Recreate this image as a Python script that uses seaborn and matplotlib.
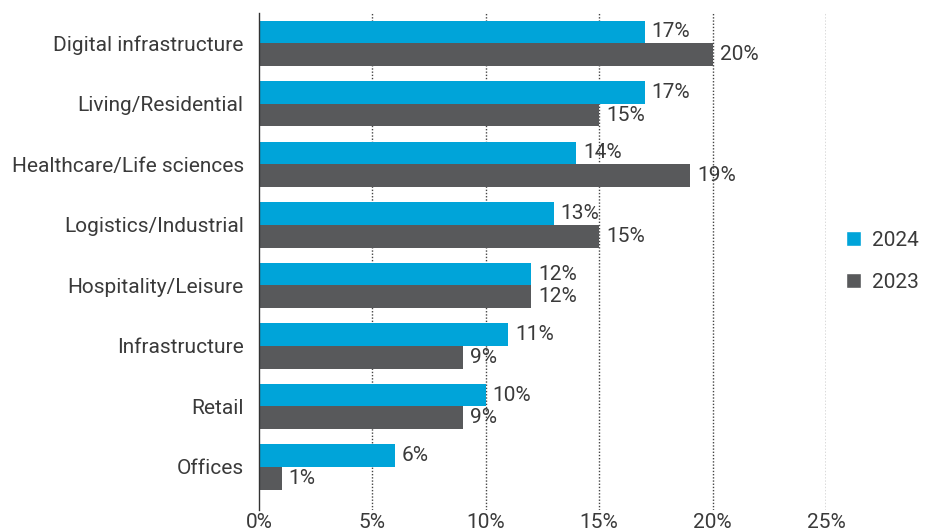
import matplotlib
matplotlib.use("Agg")
import matplotlib.pyplot as plt
import seaborn as sns
import pandas as pd
from matplotlib.patches import Patch

categories = ["Digital infrastructure", "Living/Residential", "Healthcare/Life sciences",
              "Logistics/Industrial", "Hospitality/Leisure", "Infrastructure", "Retail", "Offices"]
values_2024 = [17, 17, 14, 13, 12, 11, 10, 6]
values_2023 = [20, 15, 19, 15, 12, 9, 9, 1]
years = ["2024", "2023"]
x_ticks = [0, 5, 10, 15, 20, 25]

colors = {"2024": "#00a4d9", "2023": "#58595b"}
text_color = "#3a3a3a"

df = pd.DataFrame({
    "category": categories * 2,
    "value": values_2024 + values_2023,
    "year": ["2024"] * len(categories) + ["2023"] * len(categories),
})

sns.set_style("white")
plt.rcParams["font.family"] = ["Roboto", "Liberation Sans", "DejaVu Sans"]
plt.rcParams["font.weight"] = "normal"

fig = plt.figure(figsize=(9.27, 5.32), dpi=100)
ax = fig.add_axes([0.2794, 0.0414, 0.6116, 0.9342])

sns.barplot(data=df, y="category", x="value", hue="year", hue_order=years,
            order=categories, palette=colors, orient="h", width=0.75,
            saturation=1, linewidth=0, ax=ax, legend=False)

for container, year in zip(ax.containers, years):
    ax.bar_label(container, labels=[f"{v:g}%" for v in container.datavalues],
                 padding=5, fontsize=15, color=text_color)

ax.set_xlim(0, 25)
ax.set_ylim(7.71, -0.5)
ax.set_xticks(x_ticks)
ax.set_xticklabels([f"{t}%" for t in x_ticks], fontsize=15, color=text_color)
ax.tick_params(axis="y", labelsize=15, labelcolor=text_color, length=0, pad=11)
ax.tick_params(axis="x", length=0, pad=2)
ax.set_xlabel("")
ax.set_ylabel("")

for t in x_ticks[1:]:
    ax.axvline(t, color="#444444", linestyle=(0, (1, 1.3)), linewidth=1.0, zorder=0)

for side in ["top", "right", "bottom"]:
    ax.spines[side].set_visible(False)
ax.spines["left"].set_color("#333333")
ax.spines["left"].set_linewidth(1.0)

handles = [Patch(facecolor=colors[y], label=y) for y in years]
ax.legend(handles=handles, loc="center left", bbox_to_anchor=(1.035, 0.5),
          borderaxespad=0, borderpad=0, frameon=False, fontsize=15,
          labelcolor=text_color, handlelength=0.75, handleheight=0.75,
          handletextpad=0.5, labelspacing=1.1)

fig.savefig("out.png", dpi=100)
